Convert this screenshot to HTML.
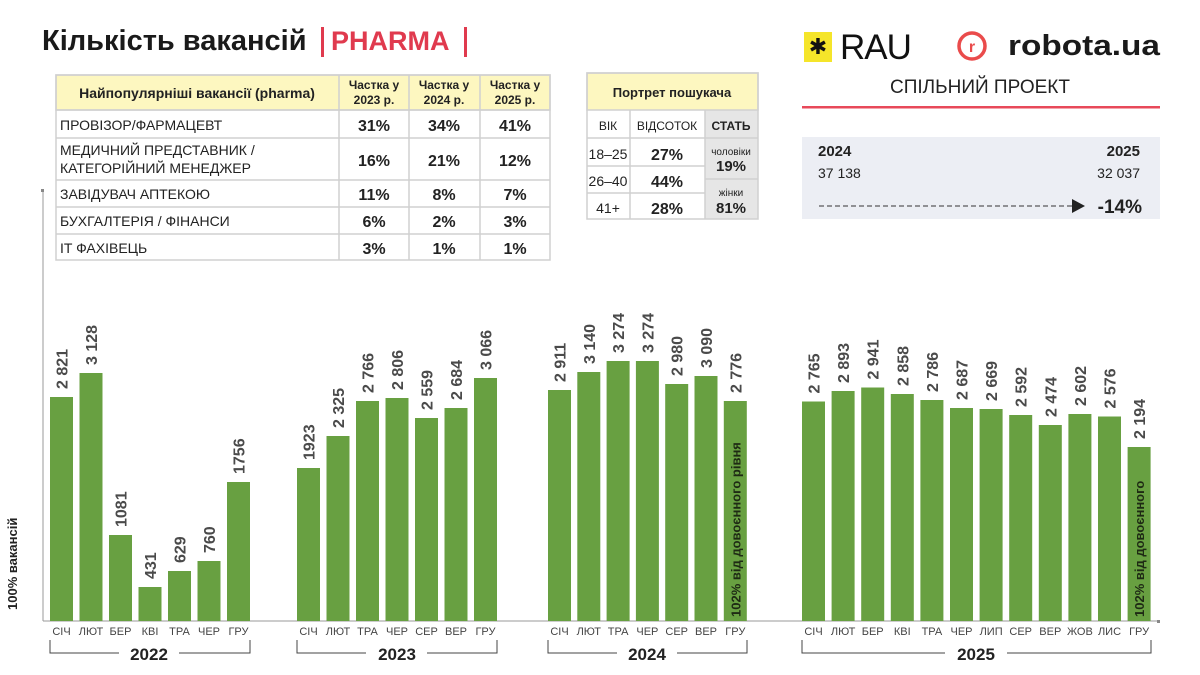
<!DOCTYPE html>
<html><head><meta charset="utf-8"><style>
html,body{margin:0;padding:0;background:#fff;}
svg{display:block;font-family:"Liberation Sans","DejaVu Sans",sans-serif;}
.v{font-size:16px;font-weight:bold;fill:#4a4a4a;}
.m{font-size:11px;fill:#444;text-anchor:middle;}
.y{font-size:17px;font-weight:bold;fill:#222;text-anchor:middle;}
.t{font-size:14px;fill:#222;}
.b{font-size:16px;font-weight:bold;fill:#222;text-anchor:middle;}
.h{font-size:12px;font-weight:bold;fill:#222;text-anchor:middle;}
.in{font-size:13px;font-weight:bold;fill:#1e2a14;}
</style></head><body>
<svg width="1200" height="675" viewBox="0 0 1200 675" xmlns="http://www.w3.org/2000/svg">
<!-- Title -->
<text x="42" y="50" font-size="29" font-weight="bold" fill="#1a1a1a">Кількість вакансій</text>
<rect x="321" y="27" width="3" height="30" fill="#e03a4e"/>
<text x="331" y="50" font-size="27" font-weight="bold" fill="#e03a4e">PHARMA</text>
<rect x="464" y="27" width="3" height="30" fill="#e03a4e"/>

<!-- Main table -->
<g stroke="#d0d0d0" stroke-width="1.5" fill="none">
<rect x="56" y="75" width="494" height="35" fill="#fdf7c0"/>
<rect x="56" y="75" width="494" height="185"/>
<line x1="56" y1="110" x2="550" y2="110"/><line x1="56" y1="138" x2="550" y2="138"/>
<line x1="56" y1="180" x2="550" y2="180"/><line x1="56" y1="207" x2="550" y2="207"/>
<line x1="56" y1="234" x2="550" y2="234"/>
<line x1="339" y1="75" x2="339" y2="260"/><line x1="409" y1="75" x2="409" y2="260"/><line x1="480" y1="75" x2="480" y2="260"/>
</g>
<text x="197" y="98" font-size="14" font-weight="bold" fill="#222" text-anchor="middle">Найпопулярніші вакансії (pharma)</text>
<text class="h" x="374" y="89">Частка у</text><text class="h" x="374" y="104">2023 р.</text>
<text class="h" x="444" y="89">Частка у</text><text class="h" x="444" y="104">2024 р.</text>
<text class="h" x="515" y="89">Частка у</text><text class="h" x="515" y="104">2025 р.</text>
<text class="t" x="60" y="130">ПРОВІЗОР/ФАРМАЦЕВТ</text>
<text class="t" x="60" y="155">МЕДИЧНИЙ ПРЕДСТАВНИК /</text>
<text class="t" x="60" y="173">КАТЕГОРІЙНИЙ МЕНЕДЖЕР</text>
<text class="t" x="60" y="199">ЗАВІДУВАЧ АПТЕКОЮ</text>
<text class="t" x="60" y="226">БУХГАЛТЕРІЯ / ФІНАНСИ</text>
<text class="t" x="60" y="253">IT ФАХІВЕЦЬ</text>
<text class="b" x="374" y="131">31%</text><text class="b" x="444" y="131">34%</text><text class="b" x="515" y="131">41%</text>
<text class="b" x="374" y="166">16%</text><text class="b" x="444" y="166">21%</text><text class="b" x="515" y="166">12%</text>
<text class="b" x="374" y="200">11%</text><text class="b" x="444" y="200">8%</text><text class="b" x="515" y="200">7%</text>
<text class="b" x="374" y="227">6%</text><text class="b" x="444" y="227">2%</text><text class="b" x="515" y="227">3%</text>
<text class="b" x="374" y="254">3%</text><text class="b" x="444" y="254">1%</text><text class="b" x="515" y="254">1%</text>

<!-- Portrait table -->
<rect x="705" y="110" width="53" height="109" fill="#e6e6e6"/>
<g stroke="#d0d0d0" stroke-width="1.5" fill="none">
<rect x="587" y="73" width="171" height="37" fill="#fdf7c0"/>
<rect x="587" y="73" width="171" height="146"/>
<line x1="587" y1="138" x2="705" y2="138"/><line x1="705" y1="138" x2="758" y2="138"/>
<line x1="587" y1="166" x2="705" y2="166"/><line x1="587" y1="193" x2="705" y2="193"/>
<line x1="705" y1="179" x2="758" y2="179"/>
<line x1="630" y1="110" x2="630" y2="219"/><line x1="705" y1="110" x2="705" y2="219"/>
</g>
<text x="672" y="97" font-size="13" font-weight="bold" fill="#222" text-anchor="middle">Портрет пошукача</text>
<text x="608" y="130" font-size="12" fill="#222" text-anchor="middle">ВІК</text>
<text x="667" y="130" font-size="12" fill="#222" text-anchor="middle">ВІДСОТОК</text>
<text x="731" y="130" font-size="12" font-weight="bold" fill="#222" text-anchor="middle">СТАТЬ</text>
<text x="608" y="159" font-size="14" fill="#222" text-anchor="middle">18–25</text>
<text x="608" y="186" font-size="14" fill="#222" text-anchor="middle">26–40</text>
<text x="608" y="213" font-size="14" fill="#222" text-anchor="middle">41+</text>
<text class="b" x="667" y="160">27%</text><text class="b" x="667" y="187">44%</text><text class="b" x="667" y="214">28%</text>
<text x="731" y="155" font-size="10" fill="#222" text-anchor="middle">чоловіки</text>
<text class="b" x="731" y="171" style="font-size:15px">19%</text>
<text x="731" y="196" font-size="10" fill="#222" text-anchor="middle">жінки</text>
<text class="b" x="731" y="213" style="font-size:15px">81%</text>

<!-- Logos -->
<rect x="804" y="32" width="28" height="30" fill="#f5e52a"/>
<text x="818" y="54" font-size="22" fill="#111" text-anchor="middle">✱</text>
<text x="840" y="59" font-size="35" fill="#111" letter-spacing="-1">RAU</text>
<circle cx="972" cy="46" r="13" fill="none" stroke="#ea4b4b" stroke-width="3.5"/>
<text x="972" y="52" font-size="16" font-weight="bold" fill="#ea4b4b" text-anchor="middle">r</text>
<text x="1008" y="55" font-size="29" font-weight="bold" fill="#1a1a1a" textLength="152" lengthAdjust="spacingAndGlyphs">robota.ua</text>
<text x="980" y="93" font-size="19" fill="#222" text-anchor="middle">СПІЛЬНИЙ ПРОЕКТ</text>
<rect x="802" y="106" width="358" height="2.5" fill="#e8495a"/>

<rect x="802" y="137" width="358" height="82" fill="#eceef4"/>
<text x="818" y="156" font-size="15" font-weight="bold" fill="#222">2024</text>
<text x="1140" y="156" font-size="15" font-weight="bold" fill="#222" text-anchor="end">2025</text>
<text x="818" y="178" font-size="14" fill="#222">37 138</text>
<text x="1140" y="178" font-size="14" fill="#222" text-anchor="end">32 037</text>
<line x1="819" y1="206" x2="1072" y2="206" stroke="#333" stroke-width="1" stroke-dasharray="5,3"/>
<polygon points="1072,199 1085,206 1072,213" fill="#222"/>
<text x="1142" y="213" font-size="19" font-weight="bold" fill="#222" text-anchor="end">-14%</text>

<!-- Axes -->
<line x1="43" y1="190" x2="43" y2="621" stroke="#999" stroke-width="1"/>
<rect x="41" y="189" width="3" height="3" fill="#888"/>
<line x1="43" y1="621" x2="1160" y2="621" stroke="#999" stroke-width="1"/>
<rect x="1157" y="620" width="3" height="3" fill="#888"/>
<text transform="translate(17,610) rotate(-90)" font-size="13" font-weight="bold" fill="#222">100% вакансій</text>

<g fill="#68a041">
<rect x="50" y="397" width="23" height="224"/>
<rect x="79.5" y="373" width="23" height="248"/>
<rect x="109" y="535" width="23" height="86"/>
<rect x="138.5" y="587" width="23" height="34"/>
<rect x="168" y="571" width="23" height="50"/>
<rect x="197.5" y="561" width="23" height="60"/>
<rect x="227" y="482" width="23" height="139"/>
<rect x="297" y="468" width="23" height="153"/>
<rect x="326.5" y="436" width="23" height="185"/>
<rect x="356" y="401" width="23" height="220"/>
<rect x="385.5" y="398" width="23" height="223"/>
<rect x="415" y="418" width="23" height="203"/>
<rect x="444.5" y="408" width="23" height="213"/>
<rect x="474" y="378" width="23" height="243"/>
<rect x="548" y="390" width="23" height="231"/>
<rect x="577.3" y="372" width="23" height="249"/>
<rect x="606.6" y="361" width="23" height="260"/>
<rect x="635.9" y="361" width="23" height="260"/>
<rect x="665.2" y="384" width="23" height="237"/>
<rect x="694.5" y="376" width="23" height="245"/>
<rect x="723.8" y="401" width="23" height="220"/>
<rect x="802" y="401.5" width="23" height="219.5"/>
<rect x="831.6" y="391" width="23" height="230"/>
<rect x="861.2" y="387.5" width="23" height="233.5"/>
<rect x="890.8" y="394" width="23" height="227"/>
<rect x="920.4" y="400" width="23" height="221"/>
<rect x="950" y="408" width="23" height="213"/>
<rect x="979.6" y="409" width="23" height="212"/>
<rect x="1009.2" y="415" width="23" height="206"/>
<rect x="1038.8" y="425" width="23" height="196"/>
<rect x="1068.4" y="414" width="23" height="207"/>
<rect x="1098" y="416.5" width="23" height="204.5"/>
<rect x="1127.6" y="447" width="23" height="174"/>
</g>

<g class="v">
<text transform="translate(67.5,389) rotate(-90)">2 821</text>
<text transform="translate(97,365) rotate(-90)">3 128</text>
<text transform="translate(126.5,527) rotate(-90)">1081</text>
<text transform="translate(156,579) rotate(-90)">431</text>
<text transform="translate(185.5,563) rotate(-90)">629</text>
<text transform="translate(215,553) rotate(-90)">760</text>
<text transform="translate(244.5,474) rotate(-90)">1756</text>

<text transform="translate(314.5,460) rotate(-90)">1923</text>
<text transform="translate(344,428) rotate(-90)">2 325</text>
<text transform="translate(373.5,393) rotate(-90)">2 766</text>
<text transform="translate(403,390) rotate(-90)">2 806</text>
<text transform="translate(432.5,410) rotate(-90)">2 559</text>
<text transform="translate(462,400) rotate(-90)">2 684</text>
<text transform="translate(491.5,370) rotate(-90)">3 066</text>

<text transform="translate(565.5,382) rotate(-90)">2 911</text>
<text transform="translate(594.8,364) rotate(-90)">3 140</text>
<text transform="translate(624.1,353) rotate(-90)">3 274</text>
<text transform="translate(653.4,353) rotate(-90)">3 274</text>
<text transform="translate(682.7,376) rotate(-90)">2 980</text>
<text transform="translate(712,368) rotate(-90)">3 090</text>
<text transform="translate(741.3,393) rotate(-90)">2 776</text>

<text transform="translate(819.5,393.5) rotate(-90)">2 765</text>
<text transform="translate(849.1,383) rotate(-90)">2 893</text>
<text transform="translate(878.7,379.5) rotate(-90)">2 941</text>
<text transform="translate(908.3,386) rotate(-90)">2 858</text>
<text transform="translate(937.9,392) rotate(-90)">2 786</text>
<text transform="translate(967.5,400) rotate(-90)">2 687</text>
<text transform="translate(997.1,401) rotate(-90)">2 669</text>
<text transform="translate(1026.7,407) rotate(-90)">2 592</text>
<text transform="translate(1056.3,417) rotate(-90)">2 474</text>
<text transform="translate(1085.9,406) rotate(-90)">2 602</text>
<text transform="translate(1115.5,408.5) rotate(-90)">2 576</text>
<text transform="translate(1145.1,439) rotate(-90)">2 194</text>
</g>
<text class="in" transform="translate(740.3,617) rotate(-90)">102% від довоєнного рівня</text>
<text class="in" transform="translate(1144.1,617) rotate(-90)">102% від довоєнного</text>

<g class="m">
<text x="61.5" y="635">СІЧ</text><text x="91" y="635">ЛЮТ</text><text x="120.5" y="635">БЕР</text><text x="150" y="635">КВІ</text><text x="179.5" y="635">ТРА</text><text x="209" y="635">ЧЕР</text><text x="238.5" y="635">ГРУ</text>
<text x="308.5" y="635">СІЧ</text><text x="338" y="635">ЛЮТ</text><text x="367.5" y="635">ТРА</text><text x="397" y="635">ЧЕР</text><text x="426.5" y="635">СЕР</text><text x="456" y="635">ВЕР</text><text x="485.5" y="635">ГРУ</text>
<text x="559.5" y="635">СІЧ</text><text x="588.8" y="635">ЛЮТ</text><text x="618.1" y="635">ТРА</text><text x="647.4" y="635">ЧЕР</text><text x="676.7" y="635">СЕР</text><text x="706" y="635">ВЕР</text><text x="735.3" y="635">ГРУ</text>
<text x="813.5" y="635">СІЧ</text><text x="843.1" y="635">ЛЮТ</text><text x="872.7" y="635">БЕР</text><text x="902.3" y="635">КВІ</text><text x="931.9" y="635">ТРА</text><text x="961.5" y="635">ЧЕР</text><text x="991.1" y="635">ЛИП</text><text x="1020.7" y="635">СЕР</text><text x="1050.3" y="635">ВЕР</text><text x="1079.9" y="635">ЖОВ</text><text x="1109.5" y="635">ЛИС</text><text x="1139.1" y="635">ГРУ</text>
</g>

<g stroke="#444" stroke-width="1" fill="none">
<polyline points="50,640 50,653 119,653"/><polyline points="179,653 250,653 250,640"/>
<polyline points="297,640 297,653 366,653"/><polyline points="427,653 497,653 497,640"/>
<polyline points="548,640 548,653 617,653"/><polyline points="677,653 747,653 747,640"/>
<polyline points="802,640 802,653 945,653"/><polyline points="1007,653 1151,653 1151,640"/>
</g>
<text class="y" x="149" y="660">2022</text>
<text class="y" x="397" y="660">2023</text>
<text class="y" x="647" y="660">2024</text>
<text class="y" x="976" y="660">2025</text>
</svg>
</body></html>
